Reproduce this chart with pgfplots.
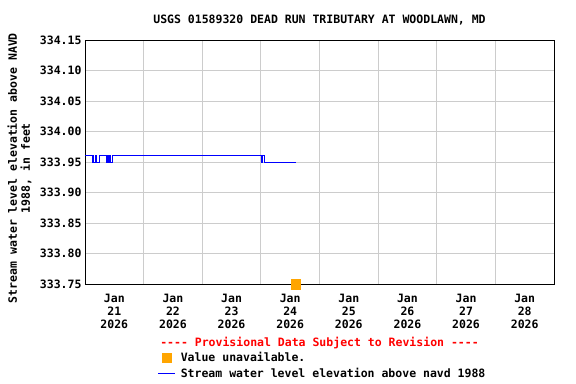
\documentclass[border=0pt]{standalone}
\usepackage{fontspec}
\setmainfont{DejaVu Sans Mono}[Ligatures=TeXOff]
\usepackage{pgfplots}
\pgfplotsset{compat=1.18}
\definecolor{usgsorange}{RGB}{255,165,0}
\definecolor{gridgray}{RGB}{204,204,204}
\newcommand{\cf}{\fontsize{11.5bp}{13bp}\selectfont\bfseries}
\begin{document}
\begin{tikzpicture}
\useasboundingbox (-85bp,-100bp) rectangle (491bp,284bp);
\begin{axis}[
  at={(0,0)}, anchor=south west,
  scale only axis, width=469bp, height=244bp,
  xmin=21, xmax=29, ymin=333.75, ymax=334.15,
  xtick={21.5,22.5,23.5,24.5,25.5,26.5,27.5,28.5},
  xticklabels={Jan\\21\\2026,Jan\\22\\2026,Jan\\23\\2026,Jan\\24\\2026,Jan\\25\\2026,Jan\\26\\2026,Jan\\27\\2026,Jan\\28\\2026},
  minor xtick={22,23,24,25,26,27,28},
  ytick={333.75,333.80,333.85,333.90,333.95,334.00,334.05,334.10,334.15},
  xminorgrids=true, xmajorgrids=false, ymajorgrids=true,
  grid style={gridgray, line width=0.8bp},
  minor grid style={gridgray, line width=0.8bp},
  major tick length=0pt, minor tick length=0pt,
  axis line style={black, line width=0.8bp},
  tick label style={font=\cf},
  xticklabel style={align=center, font=\cf, anchor=north, yshift=-7bp},
  yticklabel style={/pgf/number format/.cd, fixed, fixed zerofill, precision=2, assume math mode=true},
  every axis y label/.style={at={(axis description cs:-0.1397,0.475)}, rotate=90, anchor=center, align=center, font=\cf},
  ylabel={Stream water level elevation above NAVD\\1988, in feet},
  every axis title/.style={at={(axis description cs:0.5,1.082)}, anchor=center, font=\cf},
  title={USGS 01589320 DEAD RUN TRIBUTARY AT WOODLAWN, MD},
  clip=false,
  legend style={at={(axis description cs:0.155,-0.27)}, anchor=north west, draw=none, fill=none, font=\cf, row sep=1bp, inner sep=0pt,
    /tikz/every odd column/.append style={column sep=3bp}},
  legend cell align=left,
]
\addplot[only marks, mark=square*, mark size=4.75bp, color=usgsorange] coordinates {(24.59,333.75)};
\addlegendentry{Value unavailable.}
\addplot[color=blue, line width=0.9bp, const plot] coordinates {
(21.00,333.96) (21.12,333.95) (21.14,333.96) (21.15,333.95) (21.185,333.96) (21.20,333.95) (21.24,333.96)
(21.36,333.95) (21.37,333.96) (21.38,333.95) (21.39,333.96) (21.40,333.95) (21.41,333.96) (21.42,333.95) (21.43,333.96) (21.44,333.95) (21.46,333.96)
(24.01,333.95) (24.02,333.96) (24.06,333.95) (24.60,333.95)};
\addlegendentry{Stream water level elevation above navd 1988}
\node[font=\cf, text=red, anchor=center] at (axis description cs:0.5,-0.2418) {---- Provisional Data Subject to Revision ----};
\end{axis}
\end{tikzpicture}
\end{document}
